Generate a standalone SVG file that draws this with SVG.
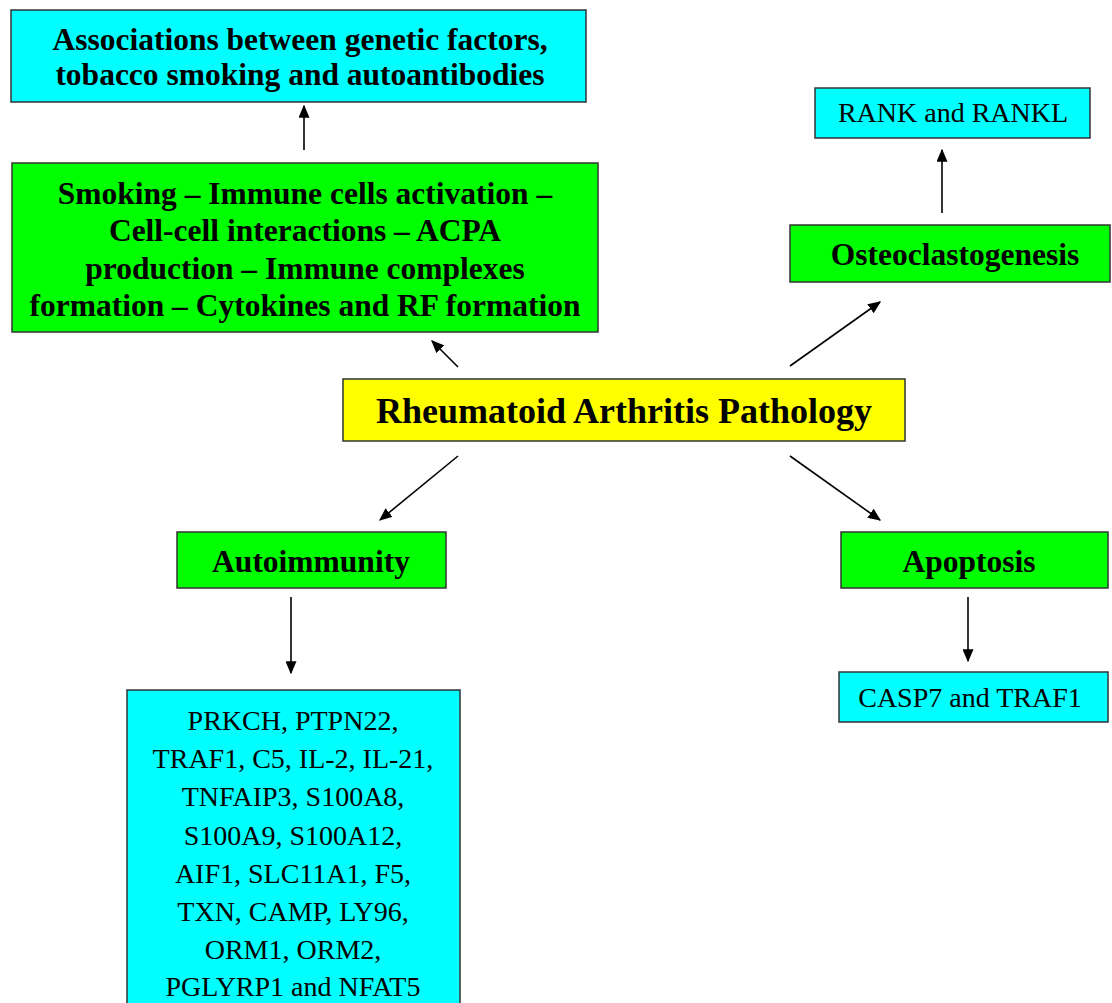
<svg xmlns="http://www.w3.org/2000/svg" width="1112" height="1003" viewBox="0 0 1112 1003">
<defs>
<style>
.box{stroke:#333;stroke-width:1.5}
.cyan{fill:#00FFFF}
.green{fill:#00FF00}
.yellow{fill:#FFFF00}
text{font-family:"Liberation Serif","Times New Roman",serif;fill:#000;text-anchor:middle}
.b{font-weight:bold;font-size:31.5px}
.r{font-size:28px}
.t{font-weight:bold;font-size:36px}
.c{stroke:#000;stroke-width:1.6;fill:none;marker-end:url(#ah)}
</style>
<marker id="ah" viewBox="0 0 10 10" refX="9" refY="5" markerWidth="13" markerHeight="11" markerUnits="userSpaceOnUse" orient="auto" preserveAspectRatio="none">
<path d="M0,0 L10,5 L0,10 z" fill="#000"/>
</marker>
</defs>
<rect width="1112" height="1003" fill="#fff"/>
<g id="connectors">
<line class="c" x1="304" y1="150" x2="304" y2="106"/>
<line class="c" x1="942" y1="213" x2="942" y2="150"/>
<line class="c" x1="458" y1="367" x2="432" y2="341"/>
<line class="c" x1="790" y1="366" x2="880" y2="302"/>
<line class="c" x1="458" y1="456" x2="380" y2="520"/>
<line class="c" x1="790" y1="456" x2="880" y2="520"/>
<line class="c" x1="291" y1="597" x2="291" y2="673"/>
<line class="c" x1="968" y1="597" x2="968" y2="661"/>
</g>
<g id="n-associations">
<rect class="box cyan" x="11" y="10" width="575" height="92"/>
<text class="b" x="300" y="50">Associations between genetic factors,</text>
<text class="b" x="300" y="85">tobacco smoking and autoantibodies</text>
</g>
<g id="n-smoking">
<rect class="box green" x="12" y="163" width="586" height="169"/>
<text class="b" x="305" y="204">Smoking – Immune cells activation –</text>
<text class="b" x="305" y="241">Cell-cell interactions – ACPA</text>
<text class="b" x="305" y="279">production – Immune complexes</text>
<text class="b" x="305" y="316">formation – Cytokines and RF formation</text>
</g>
<g id="n-rank">
<rect class="box cyan" x="815" y="88" width="275" height="50"/>
<text class="r" x="953" y="122">RANK and RANKL</text>
</g>
<g id="n-osteo">
<rect class="box green" x="790" y="225" width="320" height="57"/>
<text class="b" x="955" y="265">Osteoclastogenesis</text>
</g>
<g id="n-ra">
<rect class="box yellow" x="343" y="379" width="562" height="62"/>
<text class="t" x="624" y="423">Rheumatoid Arthritis Pathology</text>
</g>
<g id="n-autoimmunity">
<rect class="box green" x="177" y="532" width="269" height="56"/>
<text class="b" x="311" y="572">Autoimmunity</text>
</g>
<g id="n-apoptosis">
<rect class="box green" x="841" y="532" width="267" height="56"/>
<text class="b" x="969" y="572">Apoptosis</text>
</g>
<g id="n-casp">
<rect class="box cyan" x="839" y="672" width="269" height="50"/>
<text class="r" x="970" y="707">CASP7 and TRAF1</text>
</g>
<g id="n-genes">
<rect class="box cyan" x="127" y="690" width="333" height="320"/>
<text class="r" x="293" y="730">PRKCH, PTPN22,</text>
<text class="r" x="293" y="768">TRAF1, C5, IL-2, IL-21,</text>
<text class="r" x="293" y="806">TNFAIP3, S100A8,</text>
<text class="r" x="293" y="845">S100A9, S100A12,</text>
<text class="r" x="293" y="883">AIF1, SLC11A1, F5,</text>
<text class="r" x="293" y="921">TXN, CAMP, LY96,</text>
<text class="r" x="293" y="959">ORM1, ORM2,</text>
<text class="r" x="293" y="996">PGLYRP1 and NFAT5</text>
</g>
</svg>
